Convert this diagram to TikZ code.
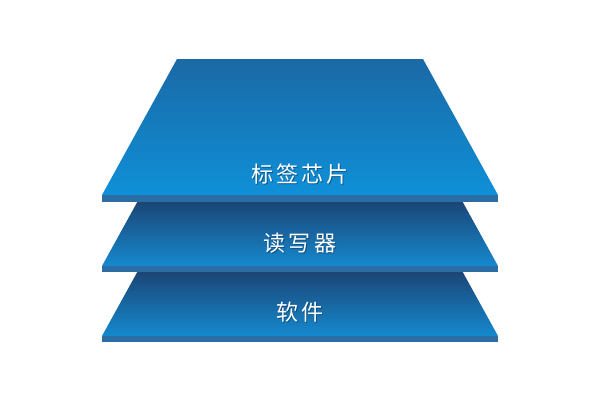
\documentclass[tikz,border=0pt]{standalone}
\usepackage{fontspec}
\newfontfamily\cjk[LetterSpace=14]{Noto Sans CJK SC}
\definecolor{faceTopA}{HTML}{1A69A5}
\definecolor{faceBotA}{HTML}{0F90D8}
\definecolor{faceTopB}{HTML}{1B4676}
\definecolor{faceBotB}{HTML}{1589CF}
\definecolor{stripC}{HTML}{2A6EA5}
\definecolor{shadowC}{HTML}{0B3A66}
\tikzset{
  layerlabel/.style={text=white, font=\cjk\fontsize{22}{25}\selectfont, inner sep=0pt},
  labelshadow/.style={text=shadowC, font=\cjk\fontsize{22}{25}\selectfont, inner sep=0pt, opacity=0.6},
  strip/.style={fill=stripC}
}
\begin{document}
\begin{tikzpicture}[x=1pt,y=-1pt]
\fill[white] (0,0) rectangle (600,400);
\useasboundingbox (0,0) rectangle (600,400);
% bottom layer (visible part)
\shade[top color=faceTopB, bottom color=faceBotB] (137.3,272) -- (462.7,272) -- (498,336) -- (102,336) -- cycle;
\fill[strip] (102,336) rectangle (498,342);
% middle layer (visible part)
\shade[top color=faceTopB, bottom color=faceBotB] (137.3,202) -- (462.7,202) -- (498,266) -- (102,266) -- cycle;
\fill[strip] (102,266) rectangle (498,272);
% top layer
\shade[top color=faceTopA, bottom color=faceBotA] (177,59) -- (423,59) -- (498,195) -- (102,195) -- cycle;
\fill[strip] (102,195) rectangle (498,202);
% labels
\node[labelshadow] at (301,175) {标签芯片};
\node[layerlabel] (l1) at (300,174) {标签芯片};
\node[labelshadow] at (301,244) {读写器};
\node[layerlabel] (l2) at (300,243) {读写器};
\node[labelshadow] at (301,313) {软件};
\node[layerlabel] (l3) at (300,312) {软件};
\end{tikzpicture}
\end{document}
